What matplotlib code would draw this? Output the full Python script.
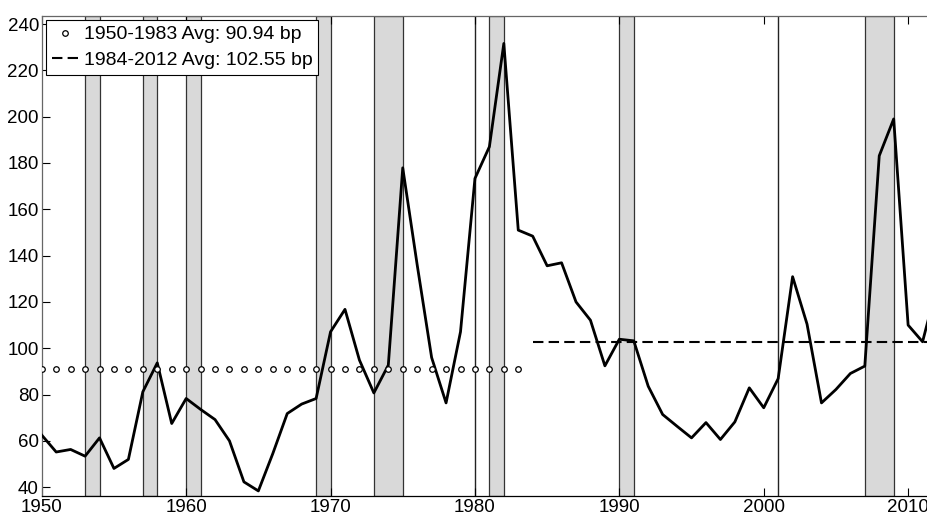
import matplotlib
matplotlib.use("Agg")
import matplotlib.pyplot as plt
import numpy as np

plt.rcParams['font.family'] = ['Liberation Sans', 'DejaVu Sans']

years = list(range(1950, 2013))
spread = [62.5, 55.2, 56.3, 53.4, 61.3, 48.1, 52.0, 81.2, 93.7, 67.5,
          78.3, 73.6, 69.2, 60.0, 42.3, 38.4, 54.5, 71.8, 75.9, 78.3,
          107.1, 116.8, 94.9, 80.7, 92.7, 177.9, 136.0, 96.0, 76.4, 107.1,
          173.3, 187.0, 231.6, 151.0, 148.4, 135.6, 136.9, 120.0, 112.1, 92.4,
          103.9, 103.2, 83.6, 71.4, 66.3, 61.3, 67.9, 60.6, 68.2, 82.9,
          74.3, 86.9, 130.9, 110.4, 76.4, 82.2, 89.1, 92.3, 183.1, 199.0,
          110.0, 102.8, 127.0]

recessions = [(1953, 1954), (1957, 1958), (1960, 1961), (1969, 1970),
              (1973, 1975), (1980, 1980), (1981, 1982), (1990, 1991),
              (2001, 2001), (2007, 2009)]

avg1_label = "1950-1983 Avg: 90.94 bp"
avg1_value = 90.94
avg1_years = (1950, 1983)
avg2_label = "1984-2012 Avg: 102.55 bp"
avg2_value = 102.55
avg2_years = (1984, 2012)

yticks = [40, 60, 80, 100, 120, 140, 160, 180, 200, 220, 240]
xticks = [1950, 1960, 1970, 1980, 1990, 2000, 2010]

fig = plt.figure(figsize=(9.28, 5.14), dpi=100)
ax = fig.add_axes([0.045, 0.035, 0.9647, 0.9345])

for a, b in recessions:
    if b > a:
        ax.axvspan(a, b, facecolor='#d9d9d9', edgecolor='#333333', linewidth=0.9, zorder=1)
    else:
        ax.axvline(a, color='#222222', linewidth=1.0, zorder=1)

ax.plot(years, spread, color='black', linewidth=2.0, zorder=3)

yrs1 = np.arange(avg1_years[0], avg1_years[1] + 1)
ax.plot(yrs1, [avg1_value] * len(yrs1), linestyle='none', marker='o', markersize=4,
        markerfacecolor='white', markeredgecolor='black', markeredgewidth=0.9,
        label=avg1_label, zorder=4)
ax.plot(list(avg2_years), [avg2_value, avg2_value], color='black', linestyle=(0, (5, 2.5)),
        linewidth=1.5, label=avg2_label, zorder=4)

ax.set_xlim(1950, 2012)
ax.set_ylim(36.2, 243.6)
ax.set_xticks(xticks)
ax.set_yticks(yticks)
ax.tick_params(direction='in', length=6, width=0.8, top=True, right=True,
               labelsize=13.5, pad=2, colors='black')
for s in ['top', 'left', 'right']:
    ax.spines[s].set_color('#666666')
ax.spines['bottom'].set_color('black')
for s in ax.spines.values():
    s.set_linewidth(0.9)

leg = ax.legend(loc='upper left', fontsize=14, frameon=True, fancybox=False,
                edgecolor='black', framealpha=1, borderaxespad=0.22,
                handlelength=1.34, handletextpad=0.3, borderpad=0.3, labelspacing=0.4)
leg.get_frame().set_linewidth(0.8)

fig.savefig('out.png', dpi=100)
